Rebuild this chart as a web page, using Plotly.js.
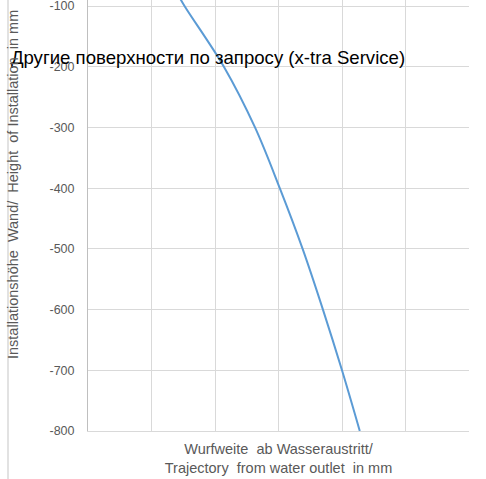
<!DOCTYPE html>
<html>
<head>
<meta charset="utf-8">
<script src="https://cdn.plot.ly/plotly-3.0.1.min.js"></script>
<style>html,body{margin:0;padding:0;background:#fff;}#chart{width:486px;height:479px;}</style>
</head>
<body>
<div id="chart"></div>
<script>
// Trajectory: horizontal distance (mm) vs installation height (mm)
const trajectoryX = [141, 152, 214, 263, 302, 338, 370, 400, 428];
const heightY     = [-80, -100, -200, -300, -400, -500, -600, -700, -800];
const yTickVals   = [-100, -200, -300, -400, -500, -600, -700, -800];
const xTickVals   = [0, 100, 200, 300, 400, 500, 600];

const chartTitle = "Другие поверхности по запросу (x-tra Service)";
const xTitle = "Wurfweite  ab Wasseraustritt/<br>Trajectory  from water outlet  in mm";
const yTitle = "Installationshöhe  Wand/  Height  of Installation  in mm";

const W = 486, H = 479;
const L = 88, R = 17, T = 0, B = 48;
const gray = "#595959";
const fontFam = "Liberation Sans, Arial, sans-serif";

const trace = {
  x: trajectoryX, y: heightY, type: "scatter", mode: "lines",
  line: {color: "#5b9bd5", width: 2, shape: "spline", smoothing: 1},
  hoverinfo: "skip", showlegend: false
};

const layout = {
  width: W, height: H,
  margin: {l: L, r: R, t: T, b: B, pad: 0},
  paper_bgcolor: "#ffffff", plot_bgcolor: "#ffffff",
  font: {family: fontFam, color: gray, size: 12},
  title: {
    text: chartTitle, font: {family: fontFam, size: 18.6, color: "#000000"},
    xref: "paper", x: (208 - L) / (W - L - R), xanchor: "center",
    yref: "container", y: 1 - 57 / H, yanchor: "middle"
  },
  xaxis: {
    range: [0, 600], tickvals: xTickVals, showticklabels: false,
    showgrid: true, gridcolor: "#d9d9d9", gridwidth: 1,
    zeroline: false, showline: true, linecolor: "#d9d9d9", linewidth: 1, mirror: true,
    fixedrange: true,
    title: {text: xTitle, font: {family: fontFam, size: 14.5, color: gray}, standoff: 12}
  },
  yaxis: {
    range: [-800, -90.1], tickvals: yTickVals,
    ticktext: yTickVals.map(v => String(v)),
    tickfont: {family: fontFam, size: 12.5, color: gray},
    ticks: "", ticklabelstandoff: 10, ticklabeloverflow: "allow",
    showgrid: true, gridcolor: "#d9d9d9", gridwidth: 1,
    zeroline: false, showline: true, linecolor: "#bfbfbf", linewidth: 1,
    fixedrange: true
  },
  annotations: [{
    text: yTitle, textangle: -90, showarrow: false,
    xref: "paper", yref: "paper",
    x: (13 - L) / (W - L - R), y: 1 - (185 - T) / (H - T - B),
    xanchor: "center", yanchor: "middle",
    font: {family: fontFam, size: 14.5, color: gray}
  }],
  shapes: [{
    type: "line", xref: "paper", yref: "paper",
    x0: (8 - L) / (W - L - R), x1: (8 - L) / (W - L - R),
    y0: 1 - (0 - T) / (H - T - B), y1: 1 - (479 - T) / (H - T - B),
    line: {color: "#d9d9d9", width: 1.5}, layer: "below"
  }]
};

Plotly.newPlot("chart", [trace], layout, {displayModeBar: false, staticPlot: true});
</script>
</body>
</html>
